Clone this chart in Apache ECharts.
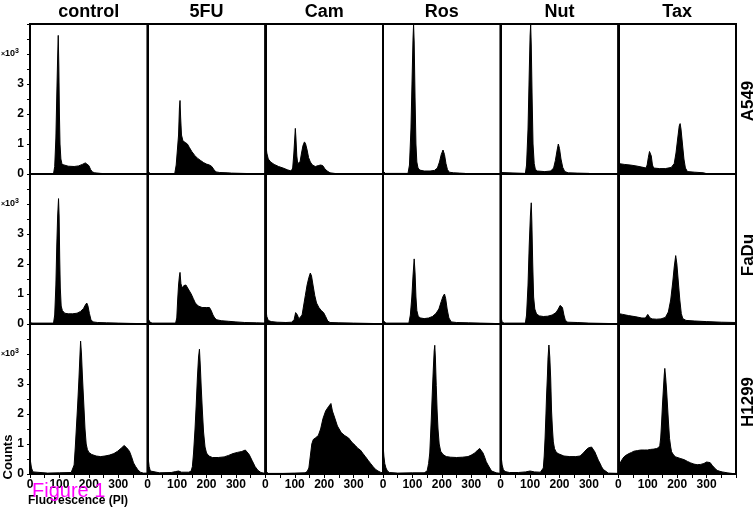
<!DOCTYPE html>
<html>
<head>
<meta charset="utf-8">
<script src="https://cdn.jsdelivr.net/npm/echarts@6/dist/echarts.min.js"></script>
<style>
  html, body { margin: 0; padding: 0; background: #fff; }
  #chart { width: 756px; height: 510px; }
</style>
</head>
<body>
<div id="chart"></div>
<script>
// column / row names
const colNames = ['control', '5FU', 'Cam', 'Ros', 'Nut', 'Tax'];
const rowNames = ['A549', 'FaDu', 'H1299'];
const xTickLabels = [0, 100, 200, 300];
const yTickLabels = [0, 1, 2, 3];

// histograms: [fluorescence (PI), counts x1000]
const a549Control = [[0,0],[2,0.04],[6,0.01],[80,0.01],[84,0.25],[88,1.2],[91,2.6],[94,3.9],[96,4.62],[98,3.6],[100,2.0],[102,1.0],[105,0.5],[109,0.32],[115,0.28],[130,0.26],[150,0.25],[165,0.27],[178,0.32],[188,0.37],[194,0.36],[200,0.28],[206,0.15],[212,0.07],[220,0.04],[240,0.02],[255,0.01],[270,0],[400,0]];
const a549FU = [[0,0.12],[3,0.08],[8,0.01],[92,0.01],[97,0.3],[101,0.8],[105,1.3],[108,2.2],[110,2.45],[112,1.9],[115,1.3],[120,1.1],[128,1.05],[135,1.0],[142,0.88],[150,0.75],[160,0.62],[170,0.52],[180,0.45],[190,0.38],[200,0.33],[210,0.3],[218,0.25],[225,0.15],[232,0.07],[245,0.05],[270,0.04],[285,0.03],[290,0.01],[400,0]];
const a549Cam = [[0,1.25],[2,1.0],[5,0.7],[10,0.5],[18,0.4],[30,0.32],[45,0.25],[60,0.2],[75,0.14],[88,0.1],[93,0.2],[97,0.7],[100,1.2],[102,1.52],[104,1.2],[107,0.6],[110,0.35],[114,0.3],[118,0.4],[123,0.7],[128,0.95],[133,1.07],[137,1.0],[142,0.8],[147,0.55],[153,0.4],[160,0.3],[170,0.25],[180,0.28],[188,0.3],[195,0.28],[202,0.18],[210,0.1],[220,0.04],[235,0.02],[250,0],[400,0]];
const a549Ros = [[0,0.1],[4,0.08],[8,0.02],[85,0.02],[90,0.3],[95,1.5],[99,3.2],[102,4.5],[104,4.98],[106,4.4],[109,2.5],[112,1.0],[115,0.4],[119,0.2],[125,0.13],[140,0.1],[160,0.1],[175,0.12],[185,0.2],[192,0.4],[198,0.65],[204,0.8],[209,0.65],[214,0.35],[219,0.15],[225,0.06],[240,0.04],[260,0.03],[278,0.02],[290,0],[400,0]];
const a549Nut = [[0,0.05],[5,0.02],[84,0.02],[88,0.3],[93,1.5],[97,3.3],[100,4.6],[102,4.98],[104,4.3],[107,2.5],[110,1.0],[114,0.35],[118,0.15],[125,0.1],[150,0.08],[170,0.1],[180,0.2],[186,0.45],[192,0.8],[196,1.0],[200,0.85],[205,0.5],[211,0.22],[218,0.08],[230,0.04],[260,0.03],[300,0.02],[310,0],[400,0]];
const a549Tax = [[0,0.35],[20,0.32],[40,0.3],[60,0.27],[80,0.23],[94,0.2],[98,0.3],[102,0.55],[106,0.75],[109,0.8],[112,0.6],[116,0.3],[120,0.2],[140,0.18],[160,0.18],[180,0.22],[190,0.35],[196,0.7],[202,1.2],[207,1.6],[210,1.68],[213,1.5],[218,1.0],[223,0.5],[228,0.2],[235,0.08],[260,0.06],[290,0.04],[300,0.01],[400,0]];

const faduControl = [[0,0.04],[10,0.03],[80,0.03],[84,0.3],[88,1.3],[91,2.6],[94,3.6],[97,4.18],[99,3.6],[101,2.2],[103,1.2],[106,0.6],[110,0.45],[118,0.36],[130,0.34],[145,0.34],[160,0.36],[172,0.42],[182,0.52],[188,0.63],[193,0.7],[197,0.6],[202,0.35],[207,0.15],[214,0.07],[230,0.05],[260,0.04],[300,0.03],[340,0.02],[400,0.01]];
const faduFU = [[0,0.3],[3,0.15],[8,0.06],[15,0.03],[95,0.03],[99,0.2],[102,0.8],[105,1.3],[108,1.6],[110,1.72],[113,1.35],[117,1.2],[123,1.28],[130,1.3],[136,1.2],[142,1.1],[148,1.0],[155,0.85],[162,0.7],[172,0.6],[185,0.55],[200,0.55],[210,0.55],[216,0.45],[222,0.3],[228,0.2],[235,0.14],[250,0.11],[275,0.09],[300,0.07],[330,0.05],[370,0.04],[400,0.03]];
const faduCam = [[0,0.8],[2,0.5],[5,0.25],[10,0.12],[20,0.08],[40,0.06],[70,0.05],[90,0.06],[98,0.15],[103,0.38],[106,0.42],[109,0.3],[114,0.17],[120,0.15],[125,0.3],[130,0.6],[136,0.95],[142,1.3],[148,1.55],[153,1.7],[157,1.6],[162,1.3],[168,0.95],[174,0.7],[182,0.55],[190,0.45],[198,0.38],[205,0.25],[212,0.1],[220,0.05],[250,0.04],[300,0.03],[350,0.02],[400,0.01]];
const faduRos = [[0,0.12],[4,0.06],[10,0.03],[88,0.03],[93,0.3],[98,0.9],[102,1.6],[106,2.17],[109,1.7],[112,0.9],[115,0.45],[120,0.25],[128,0.2],[140,0.18],[155,0.2],[168,0.25],[180,0.35],[190,0.5],[198,0.75],[204,0.92],[209,1.0],[213,0.85],[218,0.5],[224,0.2],[232,0.07],[250,0.05],[290,0.04],[330,0.03],[370,0.02],[400,0.01]];
const faduNut = [[0,0.4],[2,0.2],[5,0.06],[12,0.03],[84,0.03],[88,0.3],[93,1.3],[97,2.6],[101,3.6],[104,4.04],[106,3.4],[109,2.0],[112,0.9],[116,0.5],[122,0.33],[132,0.27],[145,0.25],[160,0.26],[175,0.3],[188,0.38],[196,0.5],[202,0.62],[206,0.68],[210,0.55],[215,0.3],[220,0.12],[228,0.06],[260,0.05],[300,0.03],[350,0.02],[400,0.01]];
const faduTax = [[0,0.35],[15,0.32],[35,0.28],[60,0.24],[80,0.2],[92,0.2],[96,0.26],[100,0.32],[104,0.28],[108,0.2],[115,0.17],[130,0.16],[145,0.17],[160,0.22],[170,0.4],[178,0.8],[185,1.4],[190,1.9],[195,2.28],[199,2.0],[204,1.4],[209,0.8],[214,0.35],[219,0.18],[230,0.12],[260,0.1],[300,0.08],[350,0.06],[400,0.05]];

const h1299Control = [[0,0.57],[2,0.4],[5,0.2],[10,0.07],[15,0.04],[60,0.03],[100,0.04],[140,0.05],[146,0.08],[150,0.3],[154,0.9],[158,1.6],[162,2.3],[166,3.1],[170,4.0],[172,4.43],[175,4.0],[178,3.3],[181,2.7],[184,2.1],[187,1.5],[191,1.0],[195,0.82],[200,0.72],[210,0.65],[225,0.6],[240,0.58],[255,0.6],[270,0.63],[285,0.68],[298,0.76],[310,0.86],[320,0.95],[328,0.88],[338,0.76],[345,0.58],[352,0.37],[359,0.25],[366,0.15],[375,0.06],[385,0.03],[400,0.03]];
const h1299FU = [[0,0.85],[2,0.5],[5,0.25],[9,0.1],[14,0.05],[40,0.04],[80,0.05],[95,0.08],[105,0.1],[115,0.06],[140,0.06],[148,0.1],[152,0.25],[156,0.7],[161,1.5],[165,2.3],[169,3.2],[173,3.9],[176,4.16],[179,3.6],[182,2.9],[186,2.1],[190,1.4],[195,0.9],[200,0.7],[208,0.6],[220,0.55],[240,0.55],[260,0.57],[275,0.62],[290,0.68],[305,0.72],[320,0.75],[332,0.8],[338,0.78],[345,0.65],[355,0.45],[365,0.25],[375,0.12],[385,0.05],[400,0.02]];
const h1299Cam = [[0,0.1],[3,0.05],[10,0.02],[60,0.02],[100,0.03],[135,0.04],[142,0.08],[148,0.2],[153,0.6],[158,1.0],[163,1.15],[170,1.2],[180,1.28],[188,1.5],[196,1.85],[205,2.1],[215,2.25],[223,2.35],[228,2.1],[235,1.9],[245,1.6],[258,1.38],[270,1.28],[283,1.2],[295,1.05],[306,0.95],[315,0.85],[323,0.8],[332,0.68],[340,0.58],[350,0.45],[357,0.36],[366,0.25],[374,0.16],[383,0.1],[391,0.06],[400,0.03]];
const h1299Ros = [[0,1.0],[3,0.6],[6,0.35],[10,0.2],[15,0.1],[22,0.05],[50,0.03],[100,0.04],[140,0.04],[150,0.1],[155,0.35],[159,0.7],[164,1.8],[168,2.8],[171,3.5],[174,4.1],[176,4.29],[178,3.9],[181,2.95],[184,2.1],[187,1.5],[191,1.0],[196,0.76],[204,0.65],[215,0.58],[230,0.56],[250,0.55],[270,0.56],[289,0.58],[300,0.63],[312,0.7],[322,0.8],[329,0.85],[334,0.8],[340,0.7],[346,0.55],[351,0.41],[357,0.3],[363,0.2],[369,0.1],[374,0.06],[385,0.04],[400,0.02]];
const h1299Nut = [[0,0.85],[2,0.55],[5,0.3],[9,0.15],[15,0.08],[30,0.05],[60,0.05],[85,0.07],[100,0.1],[115,0.07],[135,0.06],[141,0.1],[145,0.2],[148,0.6],[151,1.2],[154,2.0],[156,2.6],[159,3.3],[161,3.87],[164,4.3],[167,3.9],[170,3.2],[173,2.1],[176,1.5],[179,1.07],[183,0.85],[188,0.74],[195,0.68],[201,0.65],[215,0.6],[235,0.58],[255,0.58],[270,0.6],[281,0.7],[290,0.8],[298,0.87],[309,0.9],[315,0.85],[320,0.74],[326,0.6],[332,0.46],[338,0.35],[343,0.24],[349,0.15],[354,0.09],[366,0.03],[400,0.02]];
const h1299Tax = [[0,0.15],[4,0.3],[8,0.4],[14,0.5],[19,0.57],[27,0.63],[36,0.68],[45,0.72],[53,0.76],[65,0.78],[76,0.8],[90,0.8],[99,0.8],[110,0.82],[121,0.83],[130,0.85],[137,0.88],[141,0.95],[144,1.2],[147,1.7],[150,2.3],[153,2.8],[156,3.3],[158,3.52],[161,3.2],[164,2.8],[167,2.3],[170,1.8],[174,1.19],[178,0.9],[181,0.74],[188,0.63],[195,0.57],[210,0.52],[223,0.48],[235,0.42],[246,0.37],[257,0.33],[268,0.31],[280,0.32],[291,0.35],[300,0.4],[306,0.43],[312,0.38],[319,0.29],[327,0.2],[336,0.12],[345,0.09],[353,0.07],[370,0.04],[393,0.01],[400,0]];

const panels = [
  [a549Control, a549FU, a549Cam, a549Ros, a549Nut, a549Tax],
  [faduControl, faduFU, faduCam, faduRos, faduNut, faduTax],
  [h1299Control, h1299FU, h1299Cam, h1299Ros, h1299Nut, h1299Tax]
];

const FONT = '"Liberation Sans", Arial, sans-serif';
const L = 30, T = 24, W = 706 / 6, H = 150;

const chart = echarts.init(document.getElementById('chart'), null, { renderer: 'canvas' });

const grid = [], xAxis = [], yAxis = [], series = [];
panels.forEach(function (row, r) {
  row.forEach(function (data, c) {
    const i = grid.length;
    grid.push({
      left: L + c * W, top: T + r * H, width: W, height: H,
      show: true, borderColor: '#000', borderWidth: 2,
      backgroundColor: 'transparent', outerBoundsMode: 'none'
    });
    const bottomRow = r === panels.length - 1;
    const leftCol = c === 0;
    xAxis.push({
      type: 'value', gridIndex: i, min: 0, max: 400, interval: 50,
      axisLine: { show: true, lineStyle: { color: '#000', width: 2 } },
      axisTick: { show: bottomRow, length: 4, lineStyle: { color: '#000', width: 1 } },
      axisLabel: {
        show: bottomRow, margin: 5, color: '#000', fontFamily: FONT,
        fontSize: 12, fontWeight: 'bold', hideOverlap: false,
        formatter: function (v) { return xTickLabels.indexOf(v) >= 0 ? String(v) : ''; }
      },
      splitLine: { show: false }
    });
    yAxis.push({
      type: 'value', gridIndex: i, min: 0, max: 5, interval: 0.5,
      axisLine: { show: true, lineStyle: { color: '#000', width: 2 } },
      axisTick: { show: leftCol, length: 3, lineStyle: { color: '#000', width: 1 } },
      axisLabel: {
        show: leftCol, margin: 6, color: '#000', fontFamily: FONT,
        fontSize: 12, fontWeight: 'bold',
        formatter: function (v) {
          if (v === 4) return '{x|×}{n|10}{s|3}';
          return yTickLabels.indexOf(v) >= 0 ? String(v) : '';
        },
        rich: {
          x: { fontSize: 7, fontFamily: FONT, color: '#000' },
          n: { fontSize: 9, fontWeight: 'bold', fontFamily: FONT, color: '#000' },
          s: { fontSize: 7, fontFamily: FONT, color: '#000', padding: [0, 5, 6, 0] }
        }
      },
      splitLine: { show: false }
    });
    series.push({
      type: 'line', xAxisIndex: i, yAxisIndex: i, data: data,
      showSymbol: false, symbol: 'none', smooth: false, clip: true,
      lineStyle: { color: '#000', width: 1 },
      areaStyle: { color: '#000', opacity: 1 }
    });
  });
});

const graphic = [];
colNames.forEach(function (n, c) {
  graphic.push({
    type: 'text', x: L + c * W + W / 2, y: 12,
    style: { text: n, fontFamily: FONT, fontSize: 18, fontWeight: 'bold', fill: '#000', align: 'center', verticalAlign: 'middle' }
  });
});
const rowLabelY = [101, 255, 402];
rowNames.forEach(function (n, r) {
  graphic.push({
    type: 'text', x: 748, y: rowLabelY[r], rotation: Math.PI / 2,
    style: { text: n, fontFamily: FONT, fontSize: 17, fontWeight: 'bold', fill: '#000', align: 'center', verticalAlign: 'middle' }
  });
});
graphic.push({
  type: 'text', x: 8, y: 457, rotation: Math.PI / 2,
  style: { text: 'Counts', fontFamily: FONT, fontSize: 13, fontWeight: 'bold', fill: '#000', align: 'center', verticalAlign: 'middle' }
});
graphic.push({
  type: 'text', x: 28, y: 501,
  style: { text: 'Fluorescence (PI)', fontFamily: FONT, fontSize: 12, fontWeight: 'bold', fill: '#000', align: 'left', verticalAlign: 'middle' }
});
graphic.push({
  type: 'text', x: 32, y: 491, z: 100,
  style: { text: 'Figure 1', fontFamily: FONT, fontSize: 20, fill: '#ff00ff', align: 'left', verticalAlign: 'middle' }
});

chart.setOption({
  animation: false,
  backgroundColor: '#fff',
  grid: grid,
  xAxis: xAxis,
  yAxis: yAxis,
  series: series,
  graphic: graphic
});
</script>
</body>
</html>
